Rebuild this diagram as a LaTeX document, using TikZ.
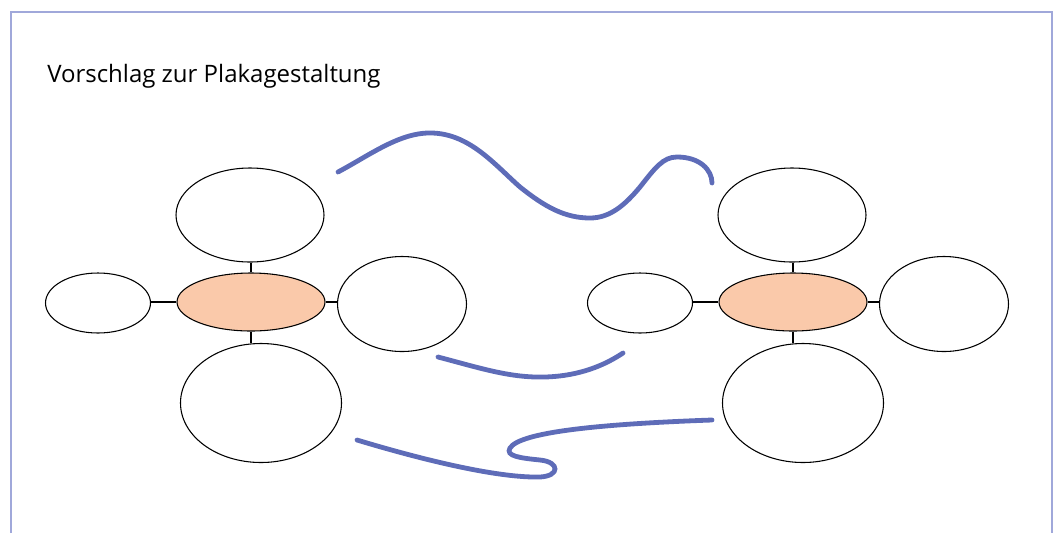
\documentclass[tikz,border=0pt]{standalone}
\usepackage{fontspec}
\setmainfont{Open Sans}
\usepackage{tikz}
\usetikzlibrary{shapes.geometric}
\definecolor{framecol}{RGB}{160,168,218}
\definecolor{wavecol}{RGB}{94,108,184}
\definecolor{corefill}{RGB}{250,201,170}
\tikzset{bubble/.style={ellipse, draw=black, line width=0.8pt, fill=white, inner sep=0pt}}
\tikzset{core/.style={bubble, fill=corefill}}
\tikzset{wave/.style={draw=wavecol, line width=3.6pt, line cap=round}}

\begin{document}
\begin{tikzpicture}[x=0.75pt,y=-0.75pt]
    \useasboundingbox (0,0) rectangle (1063,533);
    \draw[framecol, line width=1.5pt] (11,533) -- (11,12) -- (1052,12) -- (1052,533);
    \node[anchor=base west, inner sep=0pt, font=\fontsize{18}{21}\selectfont] (title) at (47,82) {Vorschlag zur Plakagestaltung};

    \foreach \g/\dx in {l/0, r/542} {
      \node[core, minimum width=148*0.75pt, minimum height=58*0.75pt] (\g core) at (251+\dx,302) {};
      \node[bubble, minimum width=148*0.75pt, minimum height=94*0.75pt] (\g top) at (250+\dx,215) {};
      \node[bubble, minimum width=105*0.75pt, minimum height=60*0.75pt] (\g left) at (98+\dx,303) {};
      \node[bubble, minimum width=129*0.75pt, minimum height=95*0.75pt] (\g right) at (402+\dx,304) {};
      \node[bubble, minimum width=161*0.75pt, minimum height=119*0.75pt] (\g bottom) at (261+\dx,403) {};
      \draw[line width=0.8pt] (\g core.north) -- (\g core.north |- \g top.south);
      \draw[line width=0.8pt] (\g core.south) -- (\g core.south |- \g bottom.north);
      \draw[line width=0.8pt] (\g core.west) -- (\g core.west -| \g left.east);
      \draw[line width=0.8pt] (\g core.east) -- (\g core.east -| \g right.west);
    }

    % free hand strokes
    \draw[wave] (338,172) .. controls (370,155) and (400,132) .. (432,133)
      .. controls (470,134) and (495,165) .. (520,187)
      .. controls (545,207) and (565,218) .. (590,218)
      .. controls (610,218) and (625,205) .. (640,187)
      .. controls (655,168) and (663,157) .. (677,157)
      .. controls (700,157) and (712,170) .. (712,183);
    \draw[wave] (438,357) .. controls (480,368) and (510,378) .. (545,377)
      .. controls (580,376) and (605,365) .. (623,353);
    \draw[wave] (357,440) .. controls (430,462) and (500,478) .. (540,477)
      .. controls (560,476) and (560,462) .. (540,460)
      .. controls (520,458) and (505,456) .. (510,448)
      .. controls (520,432) and (600,424) .. (712,420);
\end{tikzpicture}
\end{document}
